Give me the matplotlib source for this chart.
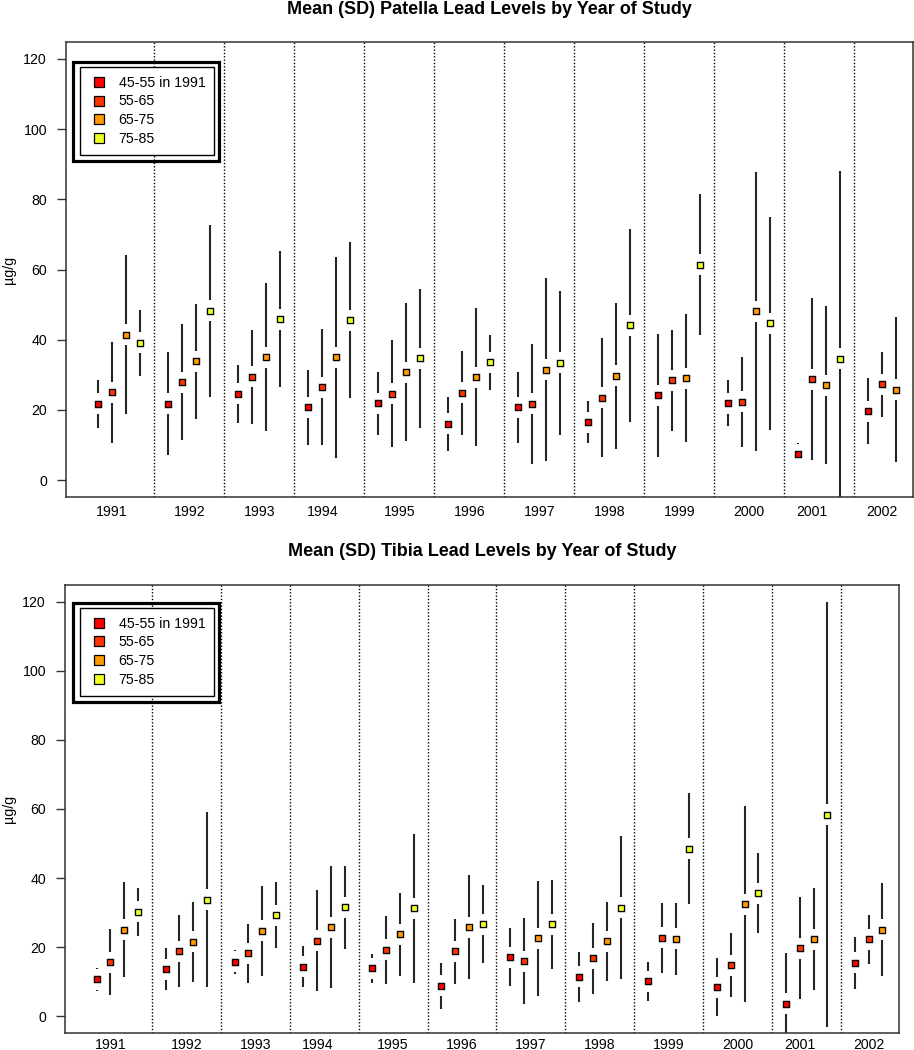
import matplotlib.pyplot as plt
from matplotlib.lines import Line2D
from matplotlib.patches import Rectangle
import numpy as np

plt.rcParams["font.family"] = ["Liberation Sans", "DejaVu Sans"]

# ---------------------------------------------------------------- data
YEARS = [str(y) for y in range(1991, 2003)]
GROUPS = ["45-55 in 1991", "55-65", "65-75", "75-85"]
COLORS = ["#FF0000", "#FF3300", "#FF9900", "#EEFF22"]
# where the year label sits inside its block (2 = under 2nd point, 2.5 = middle)
LABEL_POS = [2, 2.5, 2.5, 2, 2.5, 2.5, 2.5, 2.5, 2.5, 2.5, 2, 2]
NA = np.nan

# patella, mean and SD per age group
PAT_MEAN_45 = [21.7, 21.8, 24.6, 20.7, 21.9, 16.0, 20.7, 16.5, 24.2, 21.9, 7.4, 19.6]
PAT_SD_45 = [6.8, 14.7, 8.2, 10.6, 8.9, 7.6, 10.1, 6.0, 17.5, 6.5, 3.2, 9.4]
PAT_MEAN_55 = [25.0, 27.9, 29.4, 26.5, 24.6, 24.9, 21.7, 23.5, 28.4, 22.3, 28.8, 27.3]
PAT_SD_55 = [14.3, 16.6, 13.3, 16.6, 15.3, 12.0, 17.2, 17.0, 14.5, 12.9, 23.1, 9.3]
PAT_MEAN_65 = [41.4, 33.8, 35.0, 35.0, 30.8, 29.3, 31.5, 29.8, 29.0, 48.1, 27.0, 25.8]
PAT_SD_65 = [22.6, 16.3, 21.1, 28.7, 19.7, 19.7, 26.0, 20.8, 18.2, 39.7, 22.5, 20.6]
PAT_MEAN_75 = [39.2, 48.2, 45.9, 45.6, 34.7, 33.6, 33.4, 44.1, 61.4, 44.7, 34.6, NA]
PAT_SD_75 = [9.4, 24.5, 19.3, 22.1, 19.8, 7.8, 20.5, 27.5, 20.0, 30.3, 53.5, NA]

# tibia, mean and SD per age group
TIB_MEAN_45 = [10.7, 13.7, 15.8, 14.4, 13.9, 8.8, 17.1, 11.5, 10.1, 8.5, 3.6, 15.5]
TIB_SD_45 = [3.4, 6.1, 3.4, 6.0, 4.1, 6.7, 8.4, 7.2, 5.6, 8.3, 14.8, 7.5]
TIB_MEAN_55 = [15.7, 18.9, 18.2, 21.9, 19.3, 18.8, 16.0, 16.8, 22.7, 14.8, 19.7, 22.3]
TIB_SD_55 = [9.5, 10.4, 8.4, 14.6, 9.8, 9.5, 12.4, 10.3, 10.1, 9.3, 14.7, 7.0]
TIB_MEAN_65 = [25.1, 21.6, 24.8, 25.8, 23.8, 25.8, 22.6, 21.7, 22.4, 32.5, 22.3, 25.1]
TIB_SD_65 = [13.8, 11.6, 13.0, 17.7, 12.0, 15.1, 16.6, 11.5, 10.5, 28.4, 14.8, 13.5]
TIB_MEAN_75 = [30.3, 33.8, 29.3, 31.6, 31.3, 26.7, 26.7, 31.4, 48.5, 35.6, 58.3, NA]
TIB_SD_75 = [6.9, 25.2, 9.6, 12.0, 21.6, 11.3, 12.9, 20.7, 16.0, 11.6, 61.5, NA]

GAP_PX = 10.5
W, H = 914, 1050


def px_to_units(ax, px):
    inv = ax.transData.inverted()
    return inv.transform((0, px))[1] - inv.transform((0, 0))[1]


def draw_panel(ax, title, title_pad, xpad, means, sds, legend_xy):
    ax.set_xlim(-1.3, 59.2)
    ax.set_ylim(-4.8, 124.8)

    for g in range(1, len(YEARS)):
        ax.axvline(5 * g, color="black", lw=1.0, ls=(0, (1, 1.4)), zorder=1)

    gap = px_to_units(ax, GAP_PX)
    for j, (mean, sd, color) in enumerate(zip(means, sds, COLORS)):
        x = np.arange(len(YEARS)) * 5 + j + 1
        mean = np.asarray(mean, float)
        sd = np.asarray(sd, float)
        ok = sd > gap
        for lo, hi in [(mean - sd, mean - gap), (mean + gap, mean + sd)]:
            lc = ax.vlines(x[ok], lo[ok], hi[ok], color="#262626", lw=1.5, zorder=2)
            lc.set_capstyle("butt")
        ax.plot(x, mean, ls="none", marker="s", ms=6.3, mfc="#cccccc",
                mec="none", zorder=3)
        ax.plot(x, mean, ls="none", marker="s", ms=4.8, mfc=color,
                mec="black", mew=0.9, zorder=4)

    ax.set_xticks(np.arange(len(YEARS)) * 5 + np.array(LABEL_POS), YEARS)
    ax.set_yticks(range(0, 121, 20))
    ax.tick_params(axis="x", length=0, pad=xpad, labelsize=10.2)
    ax.tick_params(axis="y", length=6.2, width=1.0, pad=7.5, labelsize=10.2,
                   color="#333333")
    for sp in ax.spines.values():
        sp.set_color("#333333")
        sp.set_linewidth(1.1)

    ax.set_title(title, fontsize=13, fontweight="bold", pad=title_pad)

    handles = [Line2D([], [], ls="none", marker="s", ms=7, mfc=c, mec="black",
                      mew=0.9) for c in COLORS]
    leg = ax.legend(handles, GROUPS, loc="upper left", bbox_to_anchor=legend_xy,
                    borderaxespad=0, fontsize=10.2, fancybox=False, framealpha=1,
                    edgecolor="black", borderpad=0.62, handlelength=1.5,
                    handletextpad=0.6, labelspacing=0.33)
    leg.get_frame().set_linewidth(1.0)
    return leg


def main():
    fig = plt.figure(figsize=(W / 100, H / 100), dpi=100)
    ax_top = fig.add_axes([66 / W, 553 / H, 847 / W, 455 / H])
    ax_bot = fig.add_axes([65 / W, 17 / H, 834 / W, 448 / H])

    legs = [
        draw_panel(ax_top, "Mean (SD) Patella Lead Levels by Year of Study", 20, 5.5,
                   [PAT_MEAN_45, PAT_MEAN_55, PAT_MEAN_65, PAT_MEAN_75],
                   [PAT_SD_45, PAT_SD_55, PAT_SD_65, PAT_SD_75], (0.0165, 0.945)),
        draw_panel(ax_bot, "Mean (SD) Tibia Lead Levels by Year of Study", 21, 3.5,
                   [TIB_MEAN_45, TIB_MEAN_55, TIB_MEAN_65, TIB_MEAN_75],
                   [TIB_SD_45, TIB_SD_55, TIB_SD_65, TIB_SD_75], (0.018, 0.9487)),
    ]

    for ax in (ax_top, ax_bot):
        pos = ax.get_position()
        fig.text(9 / W, pos.y0 + pos.height / 2, "µg/g", rotation=90,
                 ha="center", va="center", fontsize=10.2)

    # thick outer frame around each legend
    fig.canvas.draw()
    for leg in legs:
        bb = leg.get_window_extent()
        x0, y0 = bb.x0 - 7, bb.y0 - 6
        x1, y1 = bb.x1 + 5, bb.y1 + 5
        fig.add_artist(Rectangle((x0 / W, y0 / H), (x1 - x0) / W, (y1 - y0) / H,
                                 transform=fig.transFigure, fill=False,
                                 ec="black", lw=2.3, zorder=10))

    fig.savefig("out.png", dpi=100)


if __name__ == "__main__":
    main()
